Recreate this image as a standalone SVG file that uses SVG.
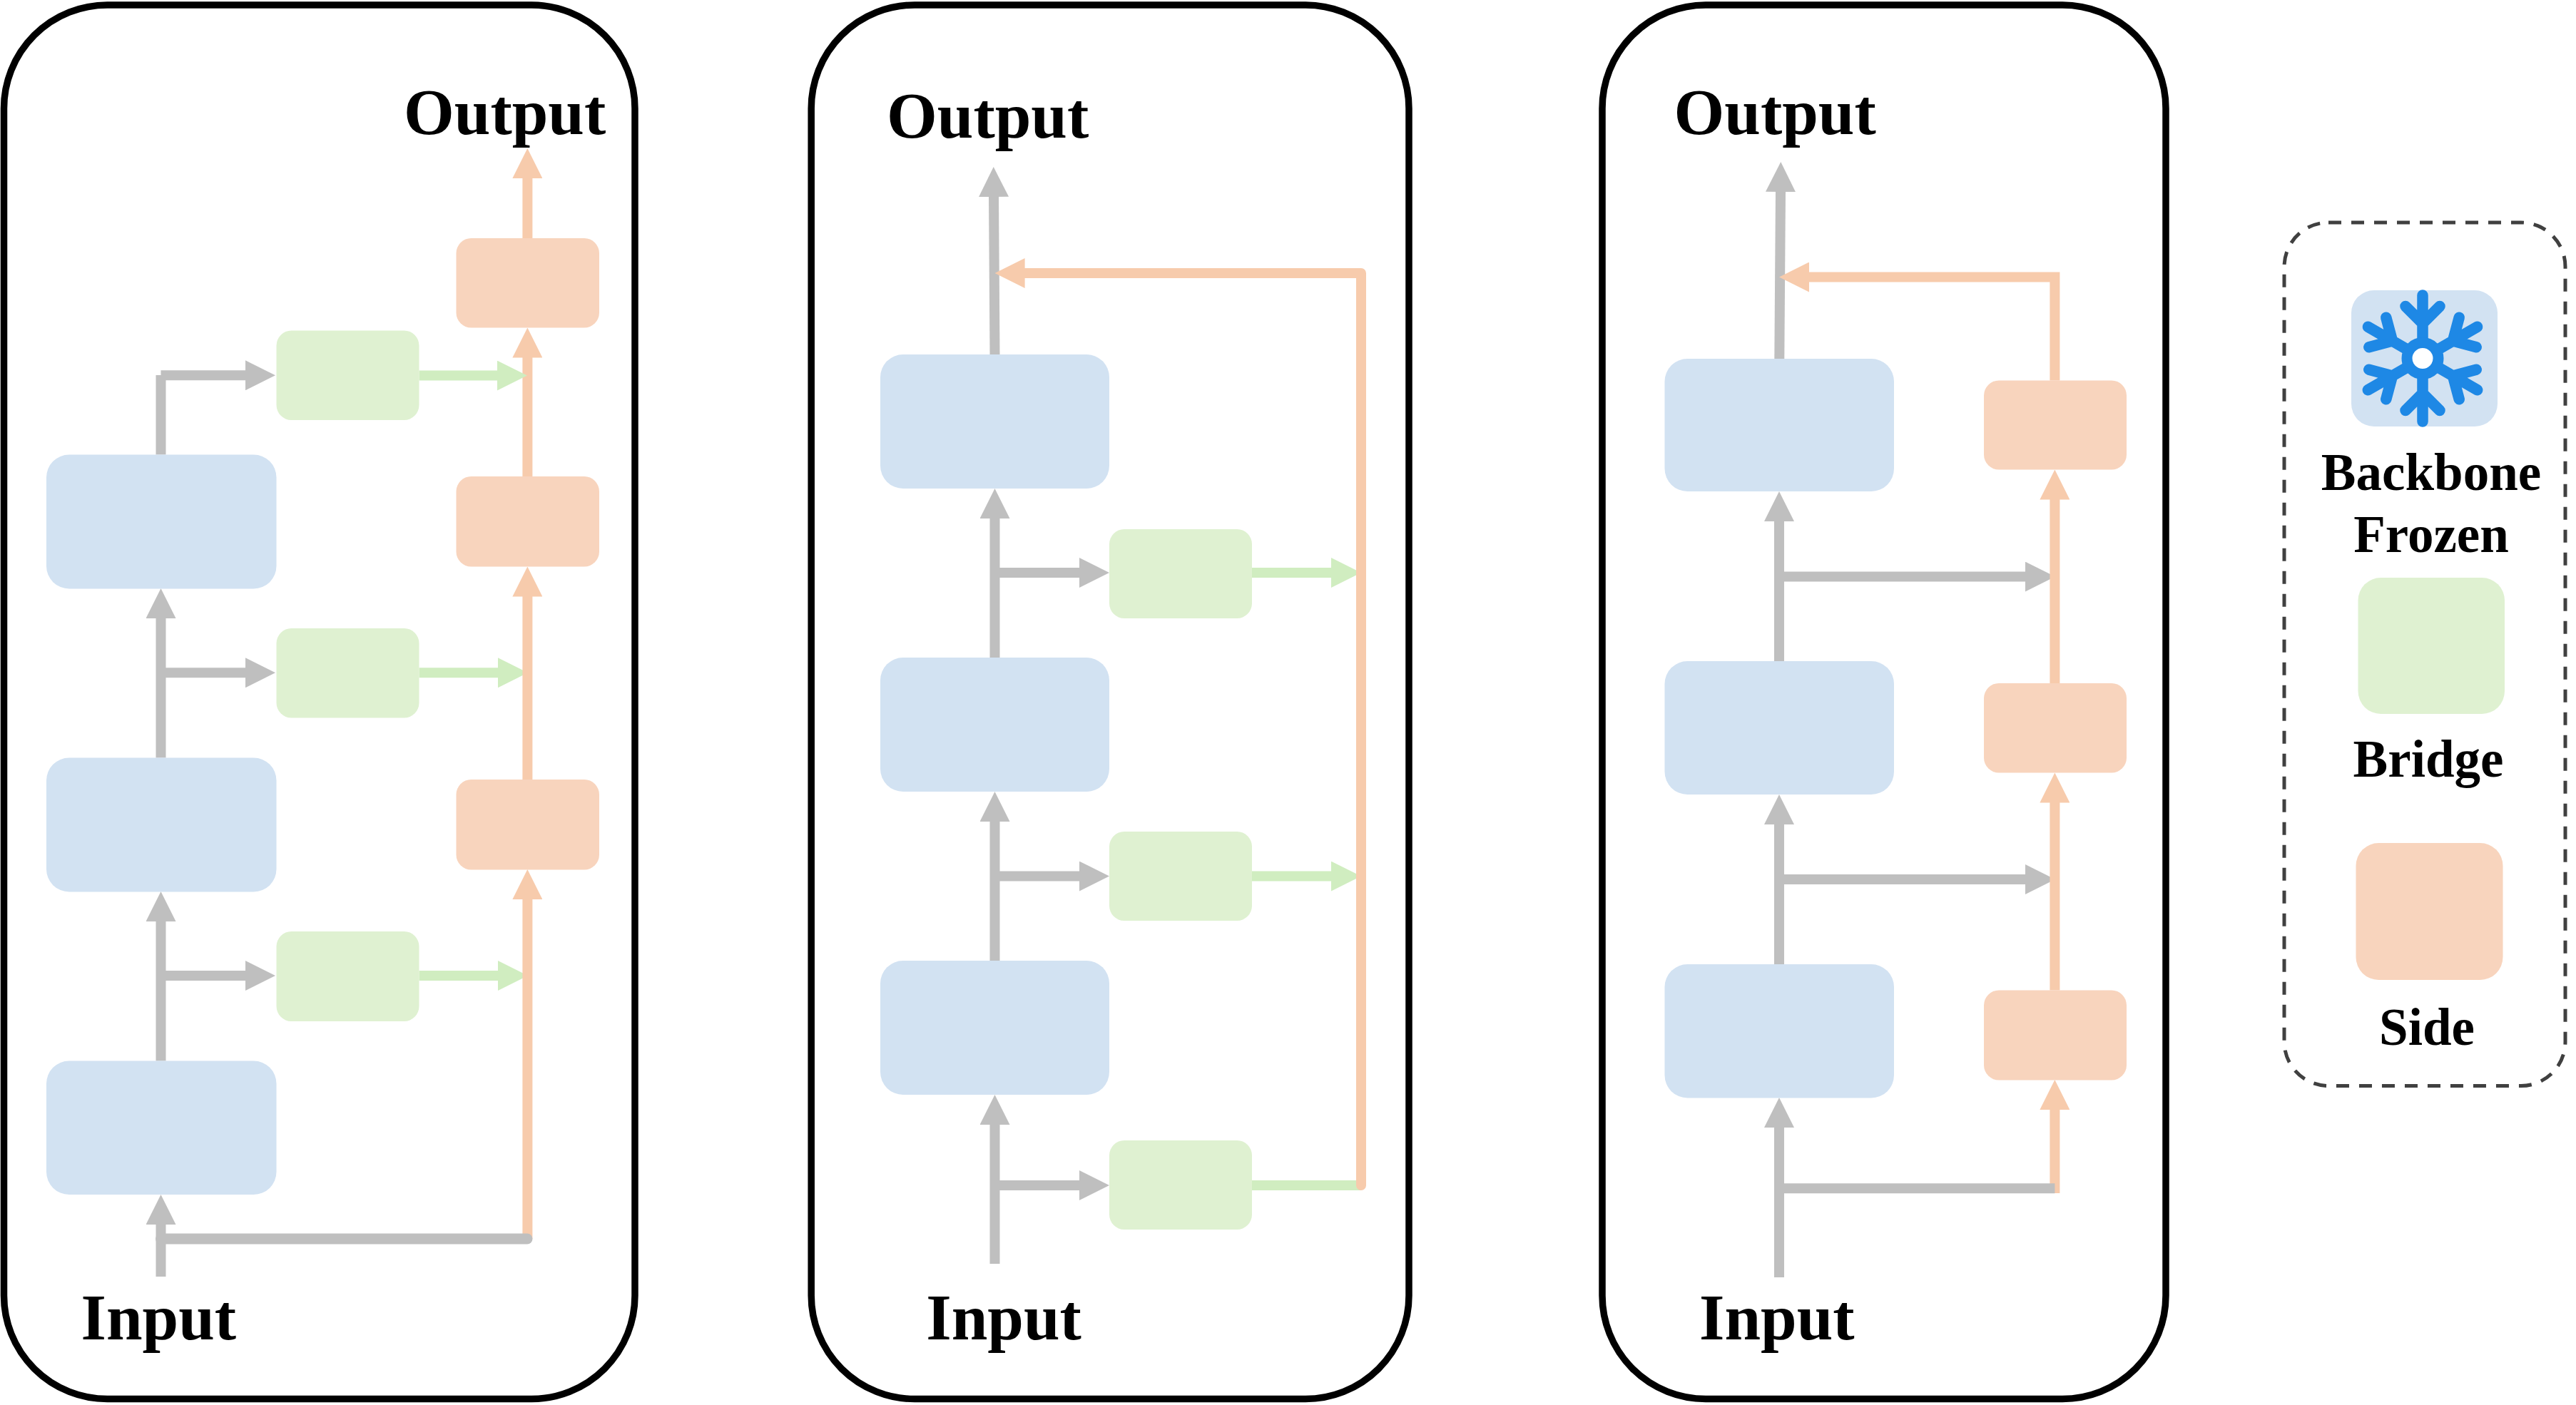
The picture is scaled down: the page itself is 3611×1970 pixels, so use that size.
<svg xmlns="http://www.w3.org/2000/svg" xmlns:xlink="http://www.w3.org/1999/xlink" width="3611" height="1970" viewBox="0 0 3611 1970">
<style>
.panel{fill:#fff;stroke:#000;stroke-width:9.500}
.blue{fill:#D2E2F2}
.green{fill:#DFF1D1}
.orange{fill:#F8D4BD}
.c{fill:none;stroke-width:14}
.cg{stroke:#BFBFBF}
.co{stroke:#F7CBAC}
.cn{stroke:#D0EDC0}
.t{font-family:"Liberation Serif","Times New Roman",serif;font-weight:700;font-size:91px;fill:#000}
.l{font-size:73px;text-anchor:middle}
.flake{fill:none;stroke:#1E88E5;stroke-width:15.500;stroke-linecap:round}
</style>
<defs>
<marker id="hg" markerUnits="userSpaceOnUse" viewBox="0 0 42 42" markerWidth="42" markerHeight="42" refX="1" refY="21" orient="auto"><path d="M0 0L42 21L0 42Z" fill="#BFBFBF"/></marker>
<marker id="ho" markerUnits="userSpaceOnUse" viewBox="0 0 42 42" markerWidth="42" markerHeight="42" refX="1" refY="21" orient="auto"><path d="M0 0L42 21L0 42Z" fill="#F7CBAC"/></marker>
<marker id="hn" markerUnits="userSpaceOnUse" viewBox="0 0 42 42" markerWidth="42" markerHeight="42" refX="1" refY="21" orient="auto"><path d="M0 0L42 21L0 42Z" fill="#D0EDC0"/></marker>
<path id="arm" d="M0 -22V-88.500M-24 -73L0 -49L24 -73"/>
</defs>
<rect width="3611" height="1970" fill="#fff"/>
<g id="panel-1"><rect class="panel" x="5.500" y="7" width="884.500" height="1954.500" rx="145" ry="145"/></g>
<g id="panel-2"><rect class="panel" x="1137.200" y="7" width="837.800" height="1954.500" rx="145" ry="145"/></g>
<g id="panel-3"><rect class="panel" x="2246" y="7" width="790" height="1954.500" rx="145" ry="145"/></g>
<g id="legend"><rect x="3202" y="312" width="394" height="1210.500" rx="62" ry="62" fill="none" stroke="#404040" stroke-width="5" stroke-dasharray="18 14"/></g>

<g id="connectors">
<g class="c cg">
<path d="M225.500 1790V1716" marker-end="url(#hg)"/>
<path d="M225.500 1487.500V1291" marker-end="url(#hg)"/>
<path d="M225.500 1062.500V866" marker-end="url(#hg)"/>
<path d="M225.500 637.500V526"/>
<path d="M225.500 526.300H345" marker-end="url(#hg)"/>
<path d="M225.500 1368H345" marker-end="url(#hg)"/>
<path d="M225.500 943.300H345" marker-end="url(#hg)"/>
<path d="M1394.500 1772V1576" marker-end="url(#hg)"/>
<path d="M1394.500 1347V1151" marker-end="url(#hg)"/>
<path d="M1394.500 922V726" marker-end="url(#hg)"/>
<path d="M1394.500 497L1393 275" marker-end="url(#hg)"/>
<path d="M1394.500 1662H1514" marker-end="url(#hg)"/>
<path d="M1394.500 1228.600H1514" marker-end="url(#hg)"/>
<path d="M1394.500 803H1514" marker-end="url(#hg)"/>
<path d="M2494 1791V1580" marker-end="url(#hg)"/>
<path d="M2494 1352V1155" marker-end="url(#hg)"/>
<path d="M2494 927V730" marker-end="url(#hg)"/>
<path d="M2494.300 503L2496 268" marker-end="url(#hg)"/>
<path d="M2494 808.600H2840" marker-end="url(#hg)"/>
<path d="M2494 1233H2840" marker-end="url(#hg)"/>
</g>
<g class="c cn">
<path d="M587.500 1368H699" marker-end="url(#hn)"/>
<path d="M587.500 943.300H699" marker-end="url(#hn)"/>
<path d="M1755 803H1867" marker-end="url(#hn)"/>
<path d="M1755 1228.600H1867" marker-end="url(#hn)"/>
<path d="M1755 1662H1908"/>
</g>
<g class="c co">
<path d="M739.400 1737V1260" marker-end="url(#ho)"/>
<path d="M739.400 1093V835.500" marker-end="url(#ho)"/>
<path d="M739.400 668V500.500" marker-end="url(#ho)"/>
<path d="M739.400 334V249" marker-end="url(#ho)"/>
<path d="M2880.400 1673V1555" marker-end="url(#ho)"/>
<path d="M2880.400 1388.500V1124.500" marker-end="url(#ho)"/>
<path d="M2880.400 958V699.500" marker-end="url(#ho)"/>
<path d="M1908 1662V383H1435.600" stroke-linejoin="round" stroke-linecap="round" marker-end="url(#ho)"/>
<path d="M2880.400 533.500V388.500H2535" marker-end="url(#ho)"/>
</g>
<g class="c cn"><path d="M587.500 526.600H698" marker-end="url(#hn)"/></g>
<g class="c cg">
<path d="M225.500 1737H739" stroke-linecap="round" stroke-width="15"/>
<path d="M2494 1666.300H2880.400"/>
</g>
</g>

<g id="p1-blue-1"><rect class="blue" x="65" y="1487.500" width="322.500" height="187.500" rx="32"/></g>
<g id="p1-blue-2"><rect class="blue" x="65" y="1062.500" width="322.500" height="188" rx="32"/></g>
<g id="p1-blue-3"><rect class="blue" x="65" y="637.500" width="322.500" height="188" rx="32"/></g>
<g id="p1-green-1"><rect class="green" x="387.500" y="1306" width="200" height="126" rx="21"/></g>
<g id="p1-green-2"><rect class="green" x="387.500" y="881" width="200" height="125.500" rx="21"/></g>
<g id="p1-green-3"><rect class="green" x="387.500" y="463.500" width="200" height="125.500" rx="21"/></g>
<g id="p1-orange-1"><rect class="orange" x="639.500" y="1093" width="200.500" height="126.500" rx="21"/></g>
<g id="p1-orange-2"><rect class="orange" x="639.500" y="668" width="200.500" height="126.500" rx="21"/></g>
<g id="p1-orange-3"><rect class="orange" x="639.500" y="334" width="200.500" height="125.500" rx="21"/></g>

<g id="p2-blue-1"><rect class="blue" x="1234" y="1347" width="321" height="188" rx="32"/></g>
<g id="p2-blue-2"><rect class="blue" x="1234" y="922" width="321" height="188" rx="32"/></g>
<g id="p2-blue-3"><rect class="blue" x="1234" y="497" width="321" height="188" rx="32"/></g>
<g id="p2-green-1"><rect class="green" x="1555" y="1599" width="200" height="125" rx="21"/></g>
<g id="p2-green-2"><rect class="green" x="1555" y="1166" width="200" height="125" rx="21"/></g>
<g id="p2-green-3"><rect class="green" x="1555" y="742" width="200" height="125" rx="21"/></g>

<g id="p3-blue-1"><rect class="blue" x="2333.500" y="1352" width="321.500" height="187.500" rx="32"/></g>
<g id="p3-blue-2"><rect class="blue" x="2333.500" y="927" width="321.500" height="187" rx="32"/></g>
<g id="p3-blue-3"><rect class="blue" x="2333.500" y="503" width="321.500" height="186" rx="32"/></g>
<g id="p3-orange-1"><rect class="orange" x="2781" y="1388.500" width="200" height="126" rx="21"/></g>
<g id="p3-orange-2"><rect class="orange" x="2781" y="958" width="200" height="125.500" rx="21"/></g>
<g id="p3-orange-3"><rect class="orange" x="2781" y="533.500" width="200" height="125" rx="21"/></g>

<g id="legend-backbone">
<rect class="blue" x="3296" y="407" width="205" height="191" rx="32"/>
<g class="flake" transform="translate(3396 502.500)">
<use xlink:href="#arm" href="#arm"/>
<use xlink:href="#arm" href="#arm" transform="rotate(60)"/>
<use xlink:href="#arm" href="#arm" transform="rotate(120)"/>
<use xlink:href="#arm" href="#arm" transform="rotate(180)"/>
<use xlink:href="#arm" href="#arm" transform="rotate(240)"/>
<use xlink:href="#arm" href="#arm" transform="rotate(300)"/>
<circle r="22" fill="#fff" stroke-width="15"/>
</g>
</g>
<g id="legend-bridge"><rect class="green" x="3305.500" y="810" width="205.500" height="191" rx="32"/></g>
<g id="legend-side"><rect class="orange" x="3302.500" y="1182" width="206" height="192" rx="32"/></g>

<g id="labels">
<text class="t" x="566" y="187.500">Output</text>
<text class="t" x="113.500" y="1877.500">Input</text>
<text class="t" x="1243" y="193">Output</text>
<text class="t" x="1298.300" y="1877.500">Input</text>
<text class="t" x="2346.500" y="187.500">Output</text>
<text class="t" x="2382" y="1877.500">Input</text>
<text class="t l" x="3408" y="687">Backbone</text>
<text class="t l" x="3408" y="774">Frozen</text>
<text class="t l" x="3404" y="1088.500">Bridge</text>
<text class="t l" x="3402" y="1465">Side</text>
</g>
</svg>
